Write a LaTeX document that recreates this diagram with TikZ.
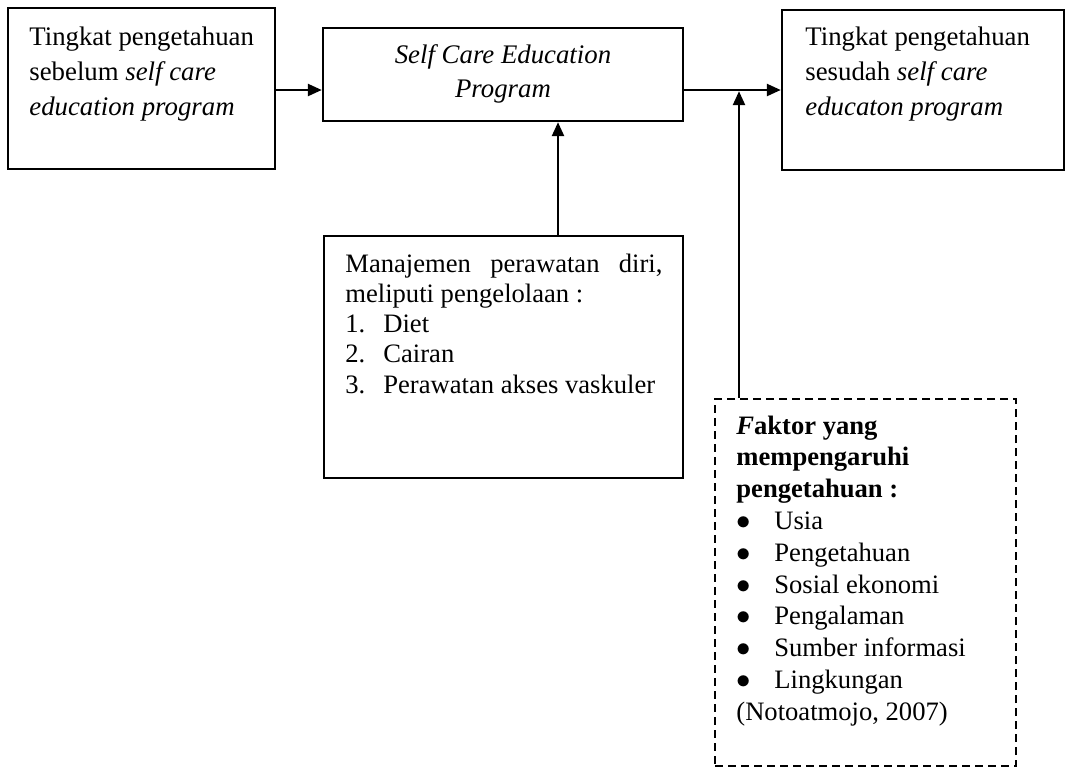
\documentclass[tikz,border=0pt]{standalone}
\usepackage{fontspec}
\setmainfont{Liberation Serif}
\usetikzlibrary{fit,arrows.meta}
\begin{document}
\begin{tikzpicture}[x=0.5pt,y=-0.5pt,
  box/.style={draw,line width=1.2pt,inner sep=0pt},
  dbox/.style={draw,line width=1.1pt,inner sep=0pt,dash pattern=on 4pt off 2.5pt},
  txt/.style={anchor=base west,inner sep=0pt,font=\fontsize{13.4}{17.6}\selectfont},
  arr/.style={line width=1.2pt,-{Triangle[length=7pt,width=6pt]}}]
\newcommand\blt{\makebox[19pt][l]{$\bullet$}}
\useasboundingbox (0,0) rectangle (1071,777);
\node[box,fit={(8,8)(275,169)}] (L) {};
\node[box,fit={(323,28)(683,121)}] (M) {};
\node[box,fit={(782,10)(1064,170)}] (R) {};
\node[box,fit={(324,236)(683,478)}] (B) {};
\node[dbox,fit={(715,399)(1016,766)}] (D) {};
\node[txt] (Lt) at (29,45) {\parbox[t]{125pt}{Tingkat pengetahuan\\ sebelum \textit{self care}\\ \textit{education program}}};
\node[txt,anchor=base,font=\fontsize{13.4}{17}\selectfont] (Mt) at (503,63.5) {\parbox[t]{170pt}{\centering\itshape Self Care Education\\ Program}};
\node[txt] (Rt) at (805,45) {\parbox[t]{125pt}{Tingkat pengetahuan\\ sesudah \textit{self care}\\ \textit{educaton program}}};
\node[txt,font=\fontsize{13.3}{15.15}\selectfont] (Bt) at (345,272) {\parbox[t]{158.5pt}{Manajemen perawatan diri,\linebreak meliputi pengelolaan :\\
\makebox[19pt][l]{1.}Diet\\
\makebox[19pt][l]{2.}Cairan\\
\makebox[19pt][l]{3.}Perawatan akses vaskuler}};
\node[txt,font=\fontsize{13.3}{15.9}\selectfont] (Dt) at (736,434) {\parbox[t]{140pt}{\textbf{\textit{F}aktor yang}\\
\textbf{mempengaruhi}\\
\textbf{pengetahuan :}\\
\blt Usia\\
\blt Pengetahuan\\
\blt Sosial ekonomi\\
\blt Pengalaman\\
\blt Sumber informasi\\
\blt Lingkungan\\
(Notoatmojo, 2007)}};
\coordinate (J) at (739,90);
\draw[arr] (L.east |- J) -- (M.west |- J);
\draw[arr] (M.east |- J) -- (R.west |- J);
\draw[arr] (B.north -| 558,0) -- (M.south -| 558,0);
\draw[arr] (D.north -| J) -- ([yshift=-0.6pt]J);
\end{tikzpicture}
\end{document}
